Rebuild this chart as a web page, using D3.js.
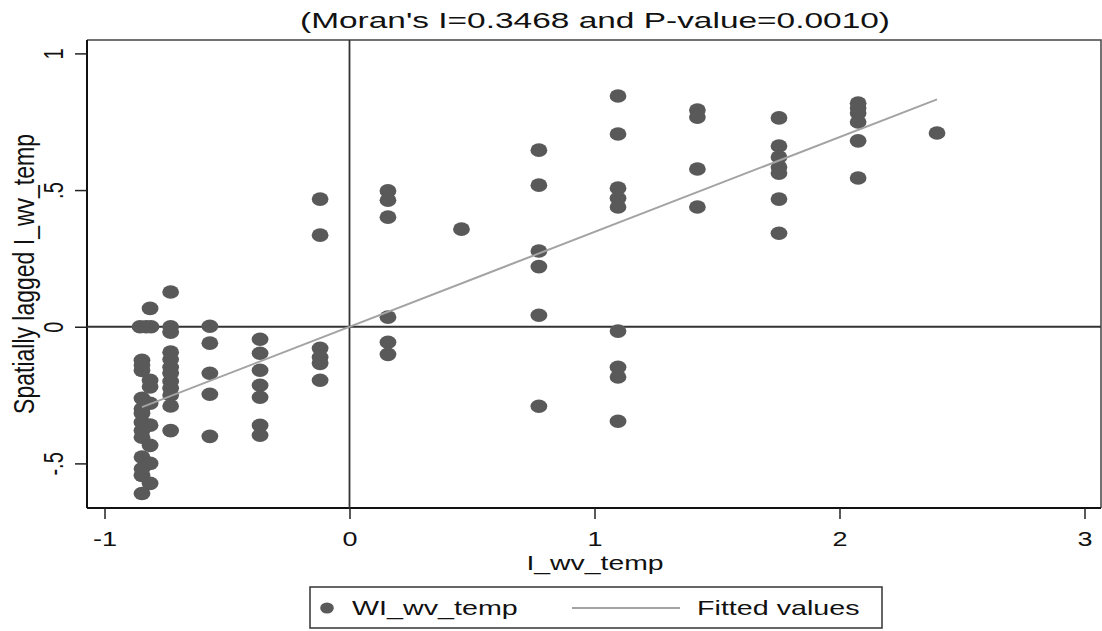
<!DOCTYPE html>
<html>
<head>
<meta charset="utf-8">
<script src="https://cdn.jsdelivr.net/npm/d3@7"></script>
<style>
  body { margin: 0; background: #fff; }
  text { font-family: "Liberation Sans", Arial, sans-serif; fill: #111; }
</style>
</head>
<body>
<svg id="plotSVG" width="1102" height="631"></svg>
<script>
// points
let pointX = [
  -0.814, -0.855, -0.83, -0.81, -0.847, -0.847, -0.814, -0.814, -0.847, -0.814, -0.847, -0.847,
  -0.847, -0.847, -0.814, -0.847, -0.814, -0.847, -0.814, -0.847, -0.847, -0.814, -0.847, -0.847,
  -0.73, -0.73, -0.73, -0.73, -0.73, -0.73, -0.73, -0.73, -0.73, -0.73, -0.73, -0.73,
  -0.57, -0.57, -0.57, -0.57, -0.57,
  -0.365, -0.365, -0.365, -0.365, -0.365, -0.365, -0.365,
  -0.12, -0.12, -0.12, -0.12, -0.12, -0.12,
  0.157, 0.157, 0.157, 0.157, 0.157, 0.157,
  0.457,
  0.773, 0.773, 0.773, 0.773, 0.773, 0.773,
  1.096, 1.096, 1.096, 1.096, 1.096, 1.096, 1.096, 1.096, 1.096,
  1.42, 1.42, 1.42, 1.42,
  1.753, 1.753, 1.753, 1.753, 1.753, 1.753, 1.753,
  2.076, 2.076, 2.076, 2.076, 2.076, 2.076,
  2.398
];
let pointY = [
  0.067, 0.0, 0.0, 0.0, -0.123, -0.16, -0.196, -0.22, -0.262, -0.28, -0.30, -0.317,
  -0.35, -0.38, -0.36, -0.404, -0.434, -0.477, -0.5, -0.52, -0.544, -0.573, -0.61, -0.14,
  0.127, 0.0, -0.02, -0.093, -0.12, -0.148, -0.17, -0.2, -0.225, -0.25, -0.29, -0.38,
  0.002, -0.06, -0.17, -0.247, -0.401,
  -0.046, -0.097, -0.159, -0.214, -0.258, -0.361, -0.397,
  0.467, 0.335, -0.079, -0.112, -0.134, -0.196,
  0.497, 0.463, 0.401, 0.035, -0.057, -0.101,
  0.357,
  0.646, 0.518, 0.277, 0.22, 0.042, -0.291,
  0.844, 0.705, 0.507, 0.47, 0.438, -0.016, -0.148, -0.184, -0.346,
  0.793, 0.767, 0.577, 0.438,
  0.764, 0.661, 0.621, 0.584, 0.562, 0.467, 0.342,
  0.818, 0.8, 0.782, 0.749, 0.68, 0.544,
  0.709
];

// fitted values line (endpoints)
let fitX = [-0.847, 2.398];
let fitY = [-0.294, 0.832];

let xTicks = [-1, 0, 1, 2, 3];
let xTickLabels = ["-1", "0", "1", "2", "3"];
let yTicks = [-0.5, 0, 0.5, 1];
let yTickLabels = ["-.5", "0", ".5", "1"];

let titleText = "(Moran's I=0.3468 and P-value=0.0010)";
let xTitle = "I_wv_temp";
let yTitle = "Spatially lagged I_wv_temp";
let legendLabels = ["WI_wv_temp", "Fitted values"];

let points = pointX.map((x, i) => ({ x: x, y: pointY[i] }));
let fitLine = fitX.map((x, i) => ({ x: x, y: fitY[i] }));

const plotLeft = 87, plotRight = 1101, plotTop = 40, plotBottom = 508;
const markColor = "#595959", fitColor = "#a3a3a3";
const stretch = 1.35;   // the picture is wider than tall

let svg = d3.select("#plotSVG");

let xScale = d3.scaleLinear()
  .domain([-1, 3])
  .range([104.5, 1084.5]);

let yScale = d3.scaleLinear()
  .domain([-0.5, 1])
  .range([463.4, 53.4]);

// plot region box (top and right)
svg.append("path")
  .attr("d", `M${plotLeft},${plotTop}H${plotRight}V${plotBottom}`)
  .attr("fill", "none")
  .attr("stroke", "#444")
  .attr("stroke-width", 1.5);

// axes
let xAxis = svg.append("g")
  .attr("transform", `translate(0,${plotBottom})`)
  .call(d3.axisBottom(xScale)
          .tickValues(xTicks)
          .tickFormat((d, i) => xTickLabels[i])
          .tickSize(11)
          .tickSizeOuter(0));

let yAxis = svg.append("g")
  .attr("transform", `translate(${plotLeft},0)`)
  .call(d3.axisLeft(yScale)
          .tickValues(yTicks)
          .tickFormat((d, i) => yTickLabels[i])
          .tickSize(12)
          .tickSizeOuter(0));

xAxis.select(".domain").attr("d", `M${plotLeft},0H${plotRight}`);
yAxis.select(".domain").attr("d", `M0,${plotTop}V${plotBottom}`);

svg.selectAll(".domain")
  .attr("stroke", "#111")
  .attr("stroke-width", 2);
svg.selectAll(".tick line")
  .attr("stroke", "#222")
  .attr("stroke-width", 1.5);

xAxis.selectAll(".tick text")
  .attr("y", 0).attr("dy", null)
  .attr("transform", `translate(0,38) scale(${stretch},1)`)
  .style("font-size", "20px")
  .attr("fill", "#111");

yAxis.selectAll(".tick text")
  .attr("x", 0).attr("dy", null)
  .attr("text-anchor", "middle")
  .attr("transform", `translate(-24,0) scale(${stretch},1) rotate(-90)`)
  .style("font-size", "20px")
  .attr("fill", "#111");

// reference lines at zero
svg.append("line")
  .attr("x1", xScale(0)).attr("x2", xScale(0))
  .attr("y1", plotTop).attr("y2", plotBottom)
  .attr("stroke", "#333").attr("stroke-width", 1.8);

svg.append("line")
  .attr("x1", plotLeft).attr("x2", plotRight)
  .attr("y1", yScale(0)).attr("y2", yScale(0))
  .attr("stroke", "#333").attr("stroke-width", 1.8);

// scatter
svg.selectAll(".dot")
  .data(points)
  .join("ellipse")
  .attr("class", "dot")
  .attr("cx", d => xScale(d.x))
  .attr("cy", d => yScale(d.y))
  .attr("rx", 8.4)
  .attr("ry", 6.8)
  .attr("fill", markColor);

// fitted line
svg.append("path")
  .datum(fitLine)
  .attr("d", d3.line().x(d => xScale(d.x)).y(d => yScale(d.y)))
  .attr("fill", "none")
  .attr("stroke", fitColor)
  .attr("stroke-width", 2);

// titles
svg.append("text")
  .attr("transform", "translate(595,28) scale(1.52,1)")
  .attr("text-anchor", "middle")
  .style("font-size", "22px")
  .text(titleText);

svg.append("text")
  .attr("transform", `translate(595,570) scale(${stretch},1)`)
  .attr("text-anchor", "middle")
  .style("font-size", "21px")
  .text(xTitle);

svg.append("text")
  .attr("transform", `translate(34,${(plotTop + plotBottom) / 2}) scale(1.3,1) rotate(-90)`)
  .attr("text-anchor", "middle")
  .style("font-size", "23px")
  .text(yTitle);

// legend
let legend = svg.append("g");
legend.append("rect")
  .attr("x", 310).attr("y", 587)
  .attr("width", 572).attr("height", 41)
  .attr("fill", "#fff")
  .attr("stroke", "#333")
  .attr("stroke-width", 1.5);

legend.append("ellipse")
  .attr("cx", 327).attr("cy", 608)
  .attr("rx", 6.8).attr("ry", 5.6)
  .attr("fill", markColor);

legend.append("line")
  .attr("x1", 572).attr("x2", 680)
  .attr("y1", 608).attr("y2", 608)
  .attr("stroke", fitColor).attr("stroke-width", 2);

legend.selectAll(".leg-text")
  .data(legendLabels)
  .join("text")
  .attr("class", "leg-text")
  .attr("transform", (d, i) => `translate(${i === 0 ? 352 : 697},615) scale(1.4,1)`)
  .style("font-size", "20.5px")
  .text(d => d);
</script>
</body>
</html>
